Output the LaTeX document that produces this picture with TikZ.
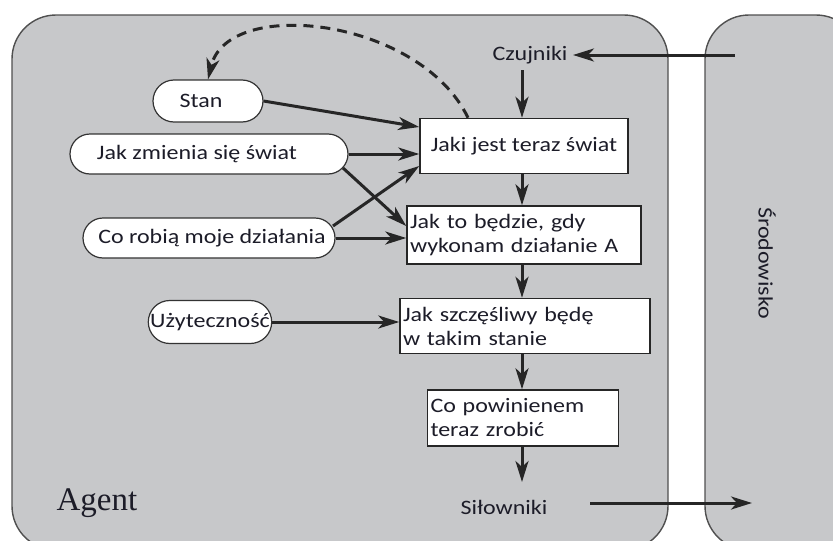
\documentclass[tikz,border=0pt]{standalone}
\usepackage{fontspec}
\setmainfont{Carlito}[FakeStretch=1.17]
\newfontfamily\agentfont{Liberation Serif}
\usetikzlibrary{arrows.meta,shapes.misc}

\definecolor{panel}{HTML}{C7C8CA}
\definecolor{edge}{HTML}{505050}
\definecolor{ink}{HTML}{1C1C28}

\tikzset{
  x=1pt, y=-1pt,
  panelbox/.style={fill=panel, draw=edge, line width=1.4pt},
  pill/.style={rounded rectangle, draw=black!80, fill=white, line width=1.2pt,
    inner sep=0pt, font=\fontsize{20.5}{24}\selectfont, text=ink},
  stepbox/.style={rectangle, draw=black!85, fill=white, line width=1.5pt,
    inner xsep=3pt, inner ysep=0pt, align=left, font=\fontsize{20.5}{24}\selectfont, text=ink},
  plain/.style={font=\fontsize{20.5}{24}\selectfont, text=ink, inner sep=1pt},
  flow/.style={-{Stealth[length=21pt,width=13pt,inset=6pt]}, line width=3pt, draw=black!85},
}

\begin{document}
\begin{tikzpicture}
\useasboundingbox (0,0) rectangle (833,541);
\fill[white] (0,0) rectangle (833,541);

% agent and environment panels
\begin{scope}
  \clip (0,0) rectangle (833,541);
  \draw[panelbox, rounded corners=44pt] (12,15) rectangle (668,550);
  \draw[panelbox, rounded corners=44pt] (705,15) rectangle (860,550);
\end{scope}

\node[font=\agentfont\fontsize{33}{36}\selectfont, text=ink, anchor=base west] (agent) at (53,510) {Agent};
\node[plain, rotate=-90] (env) at (767,263) {Środowisko};

% sensors and actuators
\node[plain] (czuj) at (530,55) {Czujniki};
\node[plain] (silo) at (504,507) {Siłowniki};
\coordinate (envin) at (735,55);
\coordinate (czujR) at (573,55);
\coordinate (czujB) at (522,70);
\coordinate (envout) at (752,503);
\coordinate (siloR) at (590,503);

% internal state nodes (text offsets inside the pills via kerns)
\node[pill, minimum width=110pt, minimum height=42pt] (stan) at (208,101) {Stan\kern14pt};
\node[pill, minimum width=278pt, minimum height=40pt] (zmiana) at (209,154) {Jak zmienia się świat\kern24pt};
\node[pill, minimum width=252pt, minimum height=40pt] (dzial) at (209,238) {\kern6pt Co robią moje działania};
\node[pill, minimum width=111pt, minimum height=43pt] (uzyt) at (210,322) {Użyteczność};

% decision chain
\node[stepbox, minimum width=208pt, minimum height=55pt, align=center] (swiat) at (524,146) {Jaki jest teraz świat};
\node[stepbox, text width=228pt, minimum height=58pt] (akcja) at (524,235) {Jak to będzie, gdy\\wykonam działanie A};
\node[stepbox, text width=244pt, minimum height=55pt] (szczescie) at (525,326) {Jak szczęśliwy będę\\w takim stanie};
\node[stepbox, text width=185pt, minimum height=56pt] (decyzja) at (523,418) {Co powinienem\\teraz zrobić};

% connectors
\draw[flow] (envin) -- (czujR);
\draw[flow] (czujB) -- (czujB |- swiat.north);
\draw[flow] (swiat.south -| 522,0) -- (akcja.north -| 522,0);
\draw[flow] (akcja.south -| 522,0) -- (szczescie.north -| 522,0);
\draw[flow] (szczescie.south -| 522,0) -- (decyzja.north -| 522,0);
\draw[flow] (decyzja.south -| 522,0) -- (522,482);
\draw[flow] (siloR) -- (envout);

\draw[flow] (stan.east) -- (swiat.west |- 0,127);
\draw[flow] (zmiana.east) -- (swiat.west |- 0,154);
\draw[flow] (343,168) -- (akcja.west |- 0,226);
\draw[flow] (333,226) -- (swiat.west |- 0,166);
\draw[flow] (dzial.east) -- (akcja.west |- 0,238);
\draw[flow] (uzyt.east) -- (szczescie.west |- 0,322);

% feedback of the current world state
\draw[flow, dashed, dash pattern=on 10pt off 7pt]
  (swiat.north -| 468,0) .. controls (420,18) and (228,-4) .. (stan.north);
\end{tikzpicture}
\end{document}
